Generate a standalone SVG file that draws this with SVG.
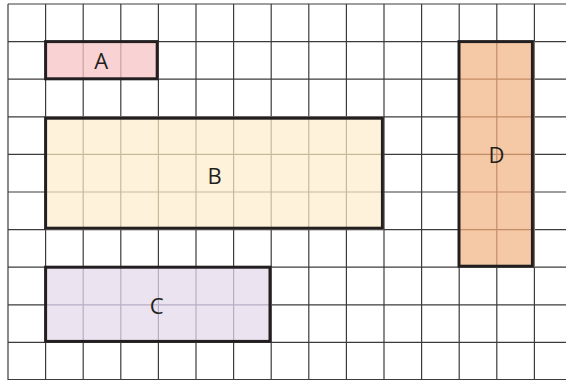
<svg xmlns="http://www.w3.org/2000/svg" width="566" height="380" viewBox="0 0 566 380">
<style>
.grid{fill:none;stroke:#3c3c3c;stroke-width:1.2}
.inner{fill:none;stroke-width:1.2}
.border{fill:none;stroke:#231f20;stroke-width:3}
.lbl{font-family:"Open Sans","Noto Sans","Liberation Sans",sans-serif;font-size:22px;fill:#231f20;text-anchor:middle}
</style>
<rect width="566" height="380" fill="#ffffff"/>
<g id="grid">
<path class="grid" d="M8 4V380M45.6 4V380M83.2 4V380M120.8 4V380M158.4 4V380M196 4V380M233.6 4V380M271.2 4V380M308.8 4V380M346.4 4V380M384 4V380M421.6 4V380M459.2 4V380M496.8 4V380M534.4 4V380"/>
<path class="grid" d="M8 4H566M8 41.6H566M8 79.2H566M8 116.8H566M8 154.4H566M8 192H566M8 229.6H566M8 267.2H566M8 304.8H566M8 342.4H566M8 379.6H566"/>
</g>
<g id="A">
<rect x="45.6" y="41.6" width="112.8" height="37.6" fill="#f9d3d4"/>
<path class="inner" stroke="#c9a2a4" d="M83.2 41.6V79.2M120.8 41.6V79.2"/>
<rect class="border" x="45.6" y="41.6" width="111.6" height="37.2"/>
<text class="lbl" x="101.3" y="69">A</text>
</g>
<g id="B">
<rect x="45.6" y="116.8" width="338.4" height="112.8" fill="#fef3da"/>
<path class="inner" stroke="#c8b99b" d="M83.2 116.8V229.6M120.8 116.8V229.6M158.4 116.8V229.6M196 116.8V229.6M233.6 116.8V229.6M271.2 116.8V229.6M308.8 116.8V229.6M346.4 116.8V229.6M45.6 154.4H384M45.6 192H384"/>
<rect class="border" x="45.6" y="118.2" width="336.8" height="110"/>
<text class="lbl" x="214.5" y="184">B</text>
</g>
<g id="C">
<rect x="45.6" y="267.2" width="225.6" height="75.2" fill="#ebe3f0"/>
<path class="inner" stroke="#b8aec2" d="M83.2 267.2V342.4M120.8 267.2V342.4M158.4 267.2V342.4M196 267.2V342.4M233.6 267.2V342.4M45.6 304.8H271.2"/>
<rect class="border" x="45.6" y="267.2" width="224.4" height="74.2"/>
<text class="lbl" x="156.7" y="314">C</text>
</g>
<g id="D">
<rect x="459.2" y="41.6" width="75.2" height="225.6" fill="#f5c9a5"/>
<path class="inner" stroke="#c38c66" d="M496.8 41.6V267.2M459.2 79.2H534.4M459.2 116.8H534.4M459.2 154.4H534.4M459.2 192H534.4M459.2 229.6H534.4"/>
<rect class="border" x="459" y="41.6" width="73.4" height="224.6"/>
<text class="lbl" x="496.5" y="163">D</text>
</g>
<g id="connectors"/>
</svg>
